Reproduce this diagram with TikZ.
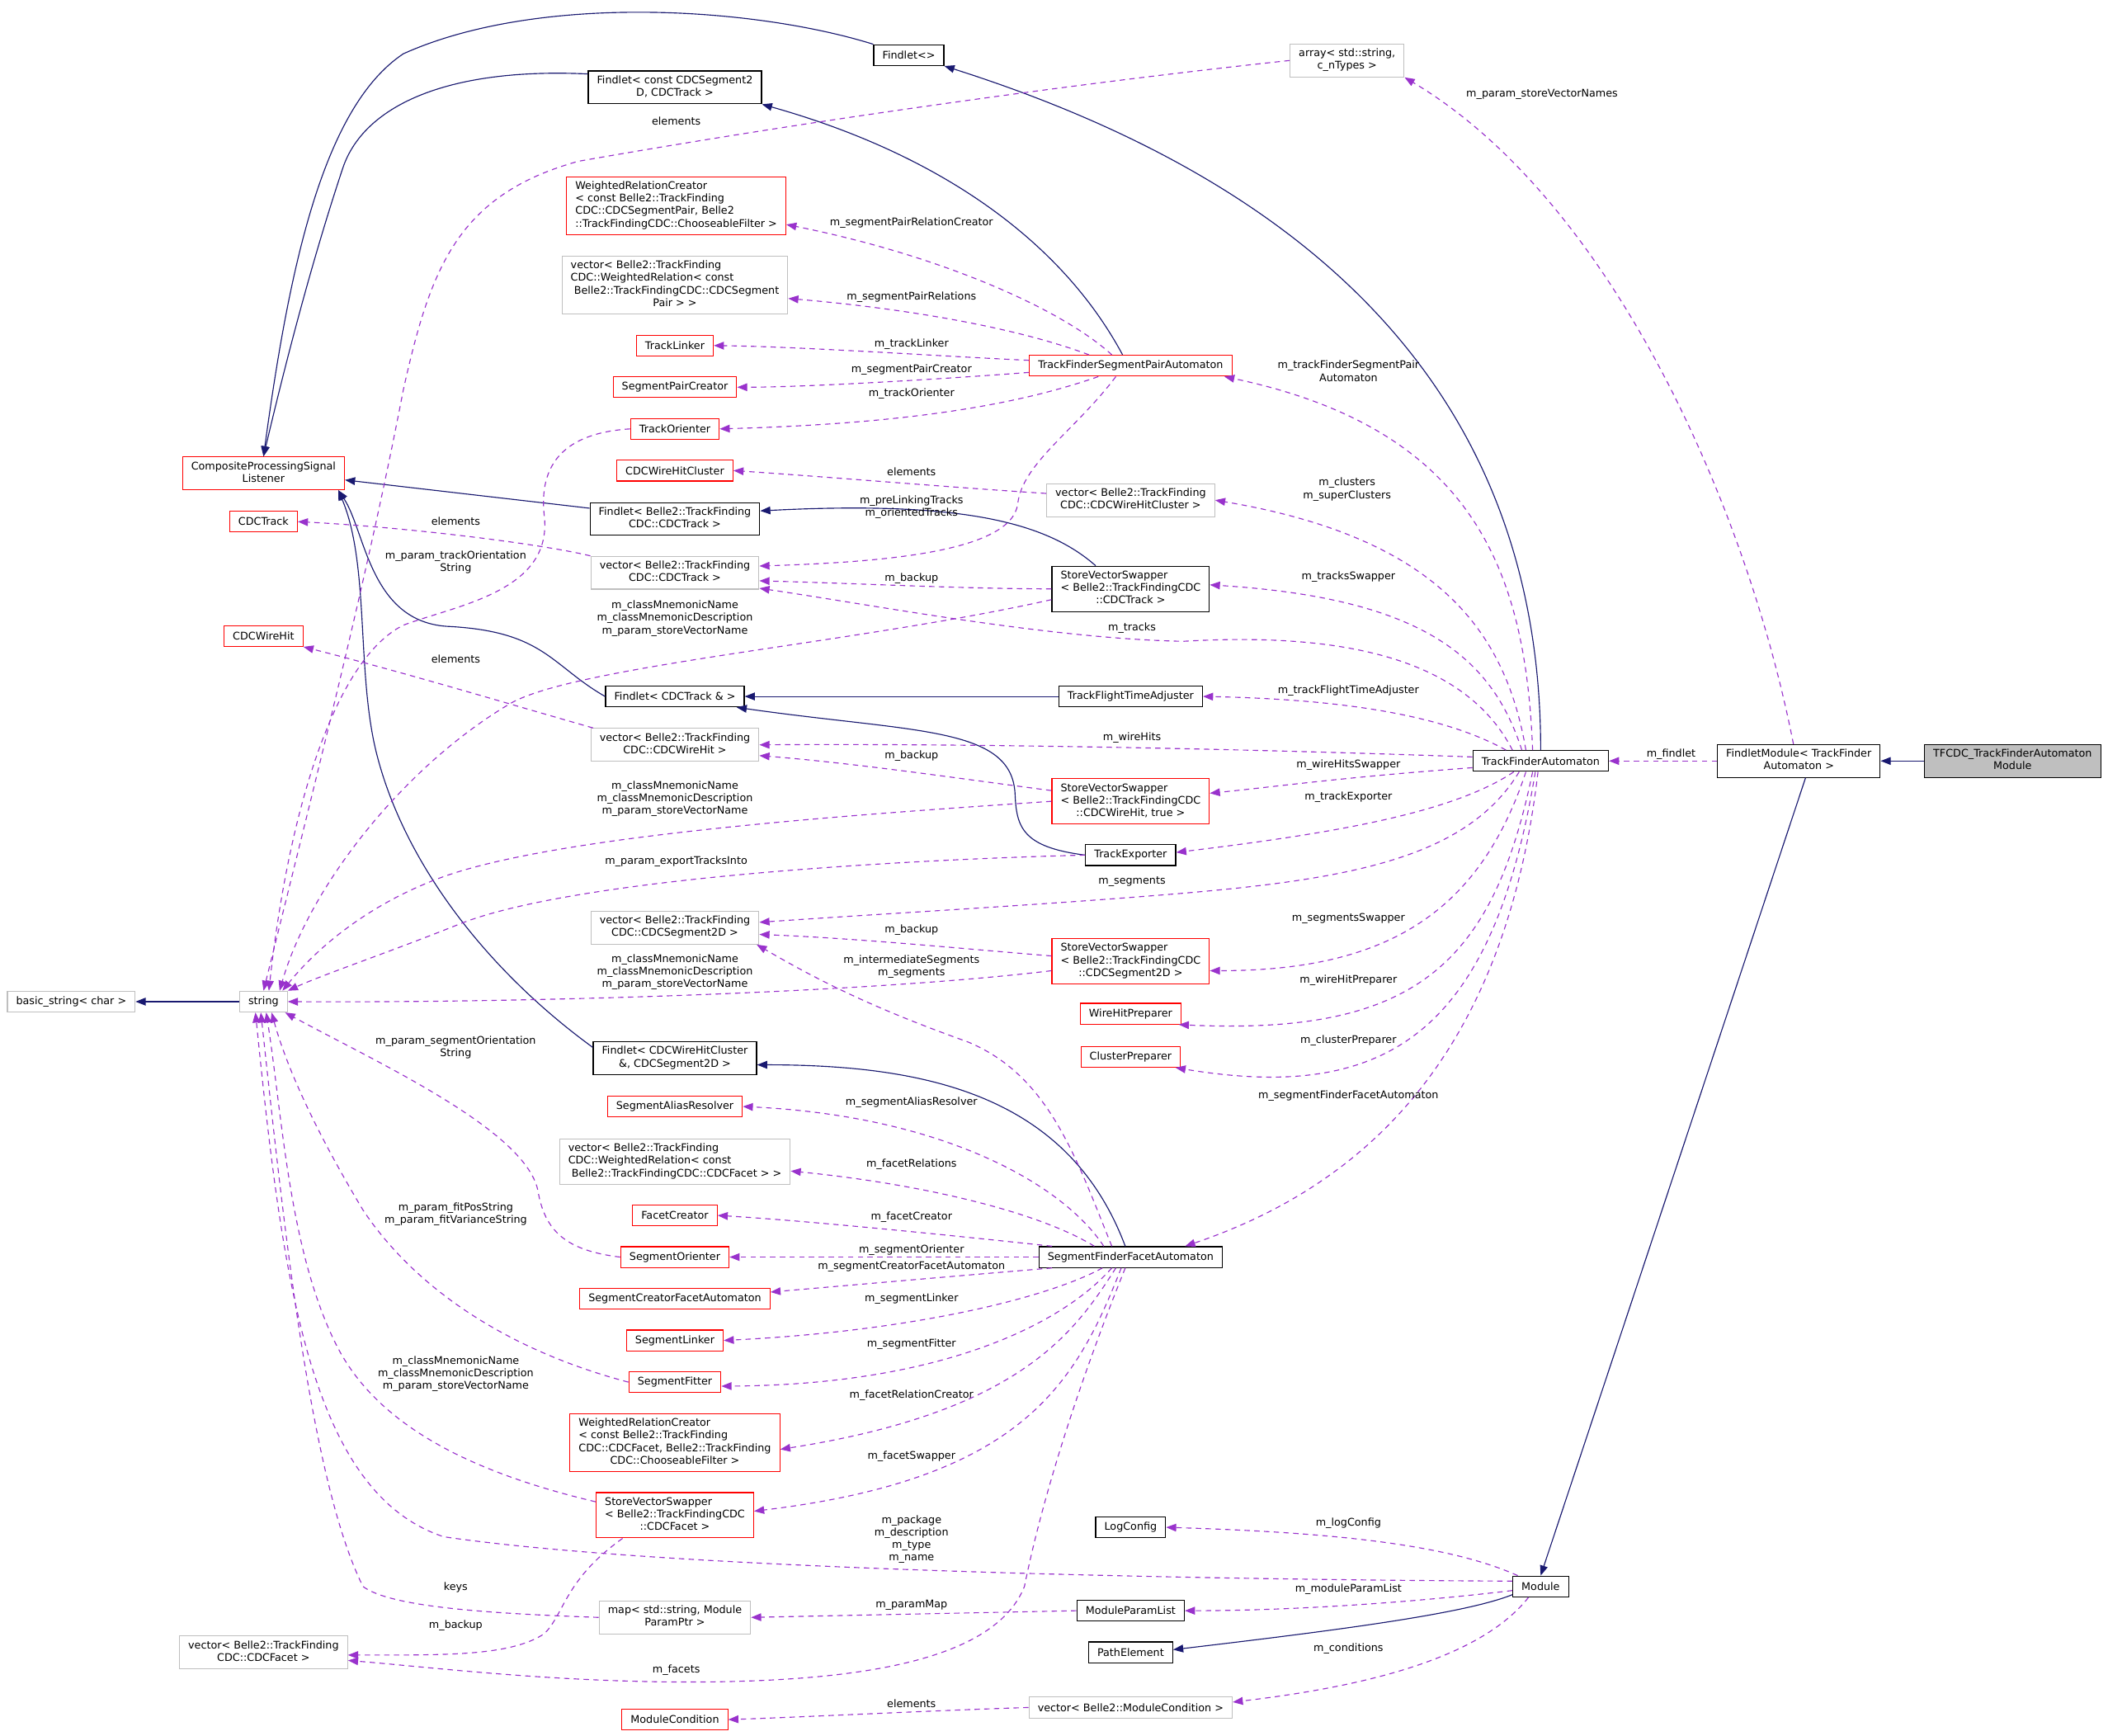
\documentclass[tikz,border=0pt]{standalone}
\usepackage{fontspec}
\setmainfont{DejaVu Sans}
\usetikzlibrary{arrows.meta,calc}
\definecolor{dgNavy}{RGB}{25,25,112}
\definecolor{dgPurple}{RGB}{153,50,204}
\definecolor{dgRed}{RGB}{255,0,0}
\definecolor{dgGrey}{RGB}{191,191,191}
\newcommand{\dgf}{\fontsize{8.9pt}{10.6pt}\selectfont}
\newcommand{\cls}[2]{\begin{tabular}{@{}l@{}}#1\\\multicolumn{1}{@{}c@{}}{#2}\end{tabular}}

\begin{document}
\begin{tikzpicture}[x=0.4mm, y=-0.4mm,
    box/.style={rectangle, draw, line width=0.8pt, inner xsep=7.4pt, inner ysep=3.3pt,
                minimum height=6.2mm, font=\dgf},
    blk/.style={box, draw=black},
    rbox/.style={box, draw=dgRed},
    gbox/.style={box, draw=dgGrey},
    inh/.style={-{Triangle[length=3mm,width=2.3mm]}, dgNavy, line width=0.8pt},
    mem/.style={-{Triangle[length=3mm,width=2.3mm]}, dgPurple, line width=0.8pt,
                dash pattern=on 1.6mm off 1.3mm},
    lbl/.style={font=\dgf, align=center, inner sep=0pt}
  ]
  \useasboundingbox (0,0) rectangle (1568,1291);

  \node[blk] (fl0) at (676,41) {Findlet<>};
  \node[gbox] (arr) at (1002,45) {\cls{array< std::string,}{c\_nTypes >}};
  \node[blk] (flseg) at (502,65) {\cls{Findlet< const CDCSegment2}{D, CDCTrack >}};
  \node[rbox] (wrcpair) at (503,153) {\cls{WeightedRelationCreator\\< const Belle2::TrackFinding\\CDC::CDCSegmentPair, Belle2}{::TrackFindingCDC::ChooseableFilter >}};
  \node[gbox] (vwrpair) at (502,212) {\cls{vector< Belle2::TrackFinding\\CDC::WeightedRelation< const\\\ Belle2::TrackFindingCDC::CDCSegment}{Pair > >}};
  \node[rbox] (tlink) at (502,257) {TrackLinker};
  \node[rbox] (spcreat) at (502,288) {SegmentPairCreator};
  \node[rbox] (torient) at (502,319) {TrackOrienter};
  \node[rbox] (cpsl) at (196,352) {\cls{CompositeProcessingSignal}{Listener}};
  \node[rbox] (cwhc) at (502,350) {CDCWireHitCluster};
  \node[rbox] (tfspa) at (841,272) {TrackFinderSegmentPairAutomaton};
  \node[gbox] (vwhc) at (841,372) {\cls{vector< Belle2::TrackFinding}{CDC::CDCWireHitCluster >}};
  \node[rbox] (cdctrack) at (196,388) {CDCTrack};
  \node[blk] (fltrk) at (502,386) {\cls{Findlet< Belle2::TrackFinding}{CDC::CDCTrack >}};
  \node[gbox] (vtrk) at (502,426) {\cls{vector< Belle2::TrackFinding}{CDC::CDCTrack >}};
  \node[blk] (svstrk) at (841,438) {\cls{StoreVectorSwapper\\< Belle2::TrackFindingCDC}{::CDCTrack >}};
  \node[rbox] (cdcwh) at (196,473) {CDCWireHit};
  \node[blk] (fltrkref) at (502,518) {Findlet< CDCTrack \& >};
  \node[blk] (tfta) at (841,518) {TrackFlightTimeAdjuster};
  \node[gbox] (vwh) at (502,554) {\cls{vector< Belle2::TrackFinding}{CDC::CDCWireHit >}};
  \node[blk] (tfa) at (1146,566) {TrackFinderAutomaton};
  \node[blk] (flmod) at (1338,566) {\cls{FindletModule< TrackFinder}{Automaton >}};
  \node[blk, fill=dgGrey] (tfcdc) at (1497,566) {\cls{TFCDC\_TrackFinderAutomaton}{Module}};
  \node[rbox] (svswh) at (841,596) {\cls{StoreVectorSwapper\\< Belle2::TrackFindingCDC}{::CDCWireHit, true >}};
  \node[blk] (texp) at (841,636) {TrackExporter};
  \node[gbox] (vseg) at (502,690) {\cls{vector< Belle2::TrackFinding}{CDC::CDCSegment2D >}};
  \node[rbox] (svsseg) at (841,715) {\cls{StoreVectorSwapper\\< Belle2::TrackFindingCDC}{::CDCSegment2D >}};
  \node[gbox] (bstr) at (53,745) {basic\_string< char >};
  \node[gbox] (str) at (196,745) {string};
  \node[rbox] (whprep) at (841,754) {WireHitPreparer};
  \node[rbox] (clprep) at (841,786) {ClusterPreparer};
  \node[blk] (flclu) at (502,787) {\cls{Findlet< CDCWireHitCluster}{\&, CDCSegment2D >}};
  \node[rbox] (sares) at (502,823) {SegmentAliasResolver};
  \node[gbox] (vwrfac) at (502,864) {\cls{vector< Belle2::TrackFinding\\CDC::WeightedRelation< const}{\ Belle2::TrackFindingCDC::CDCFacet > >}};
  \node[rbox] (fcreat) at (502,904) {FacetCreator};
  \node[rbox] (sorient) at (502,935) {SegmentOrienter};
  \node[blk] (sffa) at (841,935) {SegmentFinderFacetAutomaton};
  \node[rbox] (scfa) at (502,966) {SegmentCreatorFacetAutomaton};
  \node[rbox] (slink) at (502,997) {SegmentLinker};
  \node[rbox] (sfit) at (502,1028) {SegmentFitter};
  \node[rbox] (wrcfac) at (502,1073) {\cls{WeightedRelationCreator\\< const Belle2::TrackFinding\\CDC::CDCFacet, Belle2::TrackFinding}{CDC::ChooseableFilter >}};
  \node[rbox] (svsfac) at (502,1127) {\cls{StoreVectorSwapper\\< Belle2::TrackFindingCDC}{::CDCFacet >}};
  \node[blk] (logc) at (841,1136) {LogConfig};
  \node[blk] (module) at (1146,1180) {Module};
  \node[gbox] (map) at (502,1203) {\cls{map< std::string, Module}{ParamPtr >}};
  \node[blk] (mplist) at (841,1198) {ModuleParamList};
  \node[gbox] (vfac) at (196,1229) {\cls{vector< Belle2::TrackFinding}{CDC::CDCFacet >}};
  \node[blk] (pathel) at (841,1229) {PathElement};
  \node[rbox] (modcond) at (502,1279) {ModuleCondition};
  \node[gbox] (vmodcond) at (841,1270) {vector< Belle2::ModuleCondition >};

  \draw[inh] (tfa.north) .. controls (1146,330) and (1020,150) .. (fl0.south east);
  \draw[inh] (fl0.north west) .. controls (560,5) and (400,-5) .. (300,40)
             .. controls (240,80) and (215,200) .. (cpsl.north);
  \draw[inh] ($(flseg.west)+(0,-10)$) .. controls (330,50) and (270,80) .. (255,125)
             .. controls (230,200) and (210,280) .. (cpsl.north);
  \draw[inh] ($(tfspa.north)+(-6,0)$) .. controls (790,180) and (700,115) .. (flseg.south east);
  \draw[inh] ($(fltrk.west)+(0,-8)$) -- ($(cpsl.east)+(0,5)$);
  \draw[inh] ($(svstrk.north)+(-26,0)$) .. controls (780,390) and (720,372) .. ($(fltrk.east)+(0,-6)$);
  \draw[inh] (fltrkref.west) .. controls (410,495) and (405,470) .. (335,466)
             .. controls (275,464) and (272,395) .. ($(cpsl.south east)+(-5,0)$);
  \draw[inh] ($(flclu.west)+(0,-8)$) .. controls (360,720) and (300,640) .. (280,560)
             .. controls (265,500) and (275,420) .. ($(cpsl.south east)+(-5,0)$);
  \draw[inh] (tfta.west) -- (fltrkref.east);
  \draw[inh] (texp.west) .. controls (760,630) and (756,615) .. (755,590)
             .. controls (752,540) and (680,545) .. ($(fltrkref.south east)+(-6,0)$);
  \draw[inh] ($(sffa.north)+(-4,0)$) .. controls (795,815) and (690,792) .. ($(flclu.east)+(0,5)$);
  \draw[inh] (tfcdc.west) -- (flmod.east);
  \draw[inh] ($(flmod.south)+(5,0)$) -- (module.north);
  \draw[inh] (str.west) -- (bstr.east);
  \draw[inh] ($(module.south west)+(0,-2)$) .. controls (1090,1200) and (1000,1212) .. ($(pathel.east)+(0,-2)$);

  \draw[mem] ($(tfspa.north)+(-14,0)$) .. controls (790,230) and (700,190) .. ($(wrcpair.east)+(0,14)$);
  \draw[mem] ($(tfspa.north)+(-31,0)$) .. controls (760,245) and (680,230) .. ($(vwrpair.east)+(0,10)$);
  \draw[mem] ($(tfspa.west)+(0,-4)$) .. controls (700,265) and (600,258) .. (tlink.east);
  \draw[mem] ($(tfspa.west)+(0,5)$) .. controls (700,282) and (600,288) .. (spcreat.east);
  \draw[mem] ($(tfspa.south)+(-24,0)$) .. controls (760,300) and (680,315) .. (torient.east);
  \draw[mem] ($(tfspa.south)+(-11,0)$) .. controls (800,320) and (760,345) .. (757,375)
             .. controls (752,410) and (660,418) .. ($(vtrk.east)+(0,-5)$);
  \draw[mem] ($(vwhc.west)+(0,-5)$) .. controls (700,362) and (620,355) .. (cwhc.east);
  \draw[mem] (vtrk.north west) .. controls (400,404) and (300,392) .. (cdctrack.east);
  \draw[mem] (svstrk.west) .. controls (720,438) and (640,434) .. ($(vtrk.east)+(0,6)$);
  \draw[mem] ($(svstrk.west)+(0,8)$) .. controls (640,478) and (430,495) .. (380,523)
             .. controls (300,570) and (230,660) .. ($(str.north)+(12,0)$);
  \draw[mem] ($(svswh.west)+(0,-8)$) .. controls (720,580) and (640,568) .. ($(vwh.east)+(0,8)$);
  \draw[mem] (svswh.west) .. controls (650,605) and (420,620) .. (330,652)
             .. controls (280,670) and (240,700) .. ($(str.north east)+(-4,0)$);
  \draw[mem] (texp.west) .. controls (650,640) and (420,655) .. (340,688)
             .. controls (290,708) and (240,725) .. (str.north east);
  \draw[mem] ($(svsseg.west)+(0,-4)$) .. controls (720,706) and (640,698) .. ($(vseg.east)+(0,5)$);
  \draw[mem] ($(svsseg.west)+(0,7)$) .. controls (650,738) and (400,746) .. (str.east);
  \draw[mem] (torient.west) .. controls (420,322) and (400,345) .. (405,385)
             .. controls (410,440) and (340,450) .. (300,465)
             .. controls (250,490) and (215,600) .. ($(str.north)+(4,0)$);
  \draw[mem] (arr.west) .. controls (800,62) and (600,90) .. (430,120)
             .. controls (340,145) and (320,200) .. (300,290)
             .. controls (275,420) and (240,560) .. (str.north);
  \draw[mem] ($(vwh.north west)+(2,0)$) .. controls (380,524) and (300,500) .. (cdcwh.south east);
  \draw[mem] (sorient.west) .. controls (420,930) and (405,915) .. (400,885)
             .. controls (390,840) and (280,790) .. ($(str.south east)+(-2,0)$);
  \draw[mem] (sfit.west) .. controls (380,1005) and (310,960) .. (270,900)
             .. controls (240,850) and (215,800) .. ($(str.south)+(6,0)$);
  \draw[mem] ($(svsfac.west)+(0,-10)$) .. controls (350,1095) and (280,1060) .. (250,1000)
             .. controls (215,930) and (210,830) .. ($(str.south)+(2,0)$);
  \draw[mem] ($(svsfac.south west)+(20,0)$) .. controls (420,1175) and (420,1200) .. (405,1215)
             .. controls (380,1232) and (330,1231) .. ($(vfac.east)+(0,2)$);
  \draw[mem] (map.west) .. controls (360,1200) and (290,1195) .. (270,1180)
             .. controls (230,1100) and (210,900) .. ($(str.south)+(-2,0)$);
  \draw[mem] ($(module.west)+(0,-4)$) .. controls (900,1175) and (500,1168) .. (330,1143)
             .. controls (230,1110) and (210,950) .. ($(str.south)+(-6,0)$);
  \draw[mem] ($(module.north west)+(4,0)$) .. controls (1080,1150) and (1000,1140) .. (logc.east);
  \draw[mem] ($(module.west)+(0,3)$) .. controls (1050,1192) and (960,1198) .. (mplist.east);
  \draw[mem] ($(module.south west)+(12,0)$) .. controls (1100,1235) and (1010,1255) .. ($(vmodcond.east)+(0,-4)$);
  \draw[mem] (mplist.west) -- (map.east);
  \draw[mem] (vmodcond.west) .. controls (700,1272) and (600,1277) .. (modcond.east);
  \draw[mem] ($(sffa.north)+(-14,0)$) .. controls (800,860) and (780,800) .. (720,775)
             .. controls (650,750) and (610,730) .. ($(vseg.south east)+(-2,0)$);
  \draw[mem] ($(sffa.north)+(-20,0)$) .. controls (790,880) and (700,830) .. (sares.east);
  \draw[mem] ($(sffa.north)+(-27,0)$) .. controls (770,900) and (680,880) .. ($(vwrfac.east)+(0,7)$);
  \draw[mem] ($(sffa.north west)+(10,0)$) .. controls (700,918) and (600,908) .. (fcreat.east);
  \draw[mem] (sffa.west) -- (sorient.east);
  \draw[mem] ($(sffa.south west)+(10,0)$) .. controls (700,950) and (620,957) .. ($(scfa.east)+(0,-5)$);
  \draw[mem] ($(sffa.south)+(-21,0)$) .. controls (780,965) and (680,990) .. (slink.east);
  \draw[mem] ($(sffa.south)+(-14,0)$) .. controls (790,985) and (700,1030) .. ($(sfit.east)+(0,3)$);
  \draw[mem] ($(sffa.south)+(-11,0)$) .. controls (800,990) and (760,1050) .. ($(wrcfac.east)+(0,5)$);
  \draw[mem] ($(sffa.south)+(-7,0)$) .. controls (800,1030) and (760,1100) .. ($(svsfac.east)+(0,-3)$);
  \draw[mem] ($(sffa.south)+(-4,0)$) .. controls (790,1060) and (770,1140) .. (762,1180)
             .. controls (740,1235) and (640,1252) .. (500,1251)
             .. controls (400,1250) and (320,1240) .. ($(vfac.east)+(0,6)$);
  \draw[mem] ($(tfa.north)+(-6,0)$) .. controls (1135,430) and (1100,320) .. ($(tfspa.south east)+(-6,0)$);
  \draw[mem] ($(tfa.north)+(-11,0)$) .. controls (1120,470) and (1070,400) .. (vwhc.east);
  \draw[mem] ($(tfa.north)+(-14,0)$) .. controls (1110,490) and (1060,445) .. ($(svstrk.east)+(0,-3)$);
  \draw[mem] ($(tfa.north)+(-21,0)$) .. controls (1090,490) and (1000,470) .. (880,477)
             .. controls (780,475) and (650,450) .. ($(vtrk.south east)+(0,-1)$);
  \draw[mem] ($(tfa.north west)+(25,0)$) .. controls (1070,530) and (990,520) .. (tfta.east);
  \draw[mem] ($(tfa.west)+(0,-3)$) .. controls (900,556) and (700,553) .. (vwh.east);
  \draw[mem] ($(tfa.west)+(0,5)$) .. controls (1000,578) and (950,585) .. ($(svswh.east)+(0,-6)$);
  \draw[mem] ($(tfa.south)+(-20,0)$) .. controls (1080,605) and (990,620) .. ($(texp.east)+(0,-2)$);
  \draw[mem] ($(tfa.south)+(-16,0)$) .. controls (1090,640) and (1000,655) .. (860,666)
             .. controls (760,674) and (650,680) .. ($(vseg.east)+(0,-4)$);
  \draw[mem] ($(tfa.south)+(-11,0)$) .. controls (1100,680) and (1030,722) .. ($(svsseg.east)+(0,7)$);
  \draw[mem] ($(tfa.south)+(-6,0)$) .. controls (1110,720) and (1050,770) .. ($(whprep.south east)+(-2,0)$);
  \draw[mem] ($(tfa.south)+(-4,0)$) .. controls (1110,770) and (1030,820) .. ($(clprep.south east)+(-4,0)$);
  \draw[mem] ($(tfa.south)+(-2,0)$) .. controls (1120,780) and (1020,880) .. ($(sffa.north east)+(-28,0)$);
  \draw[mem] (flmod.west) -- (tfa.east);
  \draw[mem] ($(flmod.north)+(-4,0)$) .. controls (1300,380) and (1200,150) .. (arr.south east);

  \node[lbl] (la1) at (503,90) {elements};
  \node[lbl] (la2) at (1147,70) {m\_param\_storeVectorNames};
  \node[lbl] (la3) at (678,166) {m\_segmentPairRelationCreator};
  \node[lbl] (la4) at (678,221) {m\_segmentPairRelations};
  \node[lbl] (la5) at (678,256) {m\_trackLinker};
  \node[lbl] (la6) at (678,275) {m\_segmentPairCreator};
  \node[lbl] (la7) at (678,293) {m\_trackOrienter};
  \node[lbl] (la8) at (1003,276) {m\_trackFinderSegmentPair\\Automaton};
  \node[lbl] (la9) at (678,351) {elements};
  \node[lbl] (la10) at (1002,364) {m\_clusters\\m\_superClusters};
  \node[lbl] (la11) at (678,377) {m\_preLinkingTracks\\m\_orientedTracks};
  \node[lbl] (la12) at (339,388) {elements};
  \node[lbl] (la13) at (339,418) {m\_param\_trackOrientation\\String};
  \node[lbl] (la14) at (678,430) {m\_backup};
  \node[lbl] (la15) at (1003,429) {m\_tracksSwapper};
  \node[lbl] (la16) at (502,460) {m\_classMnemonicName\\m\_classMnemonicDescription\\m\_param\_storeVectorName};
  \node[lbl] (la17) at (842,467) {m\_tracks};
  \node[lbl] (la18) at (339,490) {elements};
  \node[lbl] (la19) at (1003,514) {m\_trackFlightTimeAdjuster};
  \node[lbl] (la20) at (842,549) {m\_wireHits};
  \node[lbl] (la21) at (1243,561) {m\_findlet};
  \node[lbl] (la22) at (678,562) {m\_backup};
  \node[lbl] (la23) at (1003,569) {m\_wireHitsSwapper};
  \node[lbl] (la24) at (502,594) {m\_classMnemonicName\\m\_classMnemonicDescription\\m\_param\_storeVectorName};
  \node[lbl] (la25) at (1003,593) {m\_trackExporter};
  \node[lbl] (la26) at (503,641) {m\_param\_exportTracksInto};
  \node[lbl] (la27) at (842,656) {m\_segments};
  \node[lbl] (la28) at (1003,683) {m\_segmentsSwapper};
  \node[lbl] (la29) at (678,692) {m\_backup};
  \node[lbl] (la30) at (502,723) {m\_classMnemonicName\\m\_classMnemonicDescription\\m\_param\_storeVectorName};
  \node[lbl] (la31) at (678,719) {m\_intermediateSegments\\m\_segments};
  \node[lbl] (la32) at (1003,729) {m\_wireHitPreparer};
  \node[lbl] (la33) at (1003,774) {m\_clusterPreparer};
  \node[lbl] (la34) at (339,779) {m\_param\_segmentOrientation\\String};
  \node[lbl] (la35) at (1003,815) {m\_segmentFinderFacetAutomaton};
  \node[lbl] (la36) at (678,820) {m\_segmentAliasResolver};
  \node[lbl] (la37) at (678,866) {m\_facetRelations};
  \node[lbl] (la38) at (339,903) {m\_param\_fitPosString\\m\_param\_fitVarianceString};
  \node[lbl] (la39) at (678,905) {m\_facetCreator};
  \node[lbl] (la40) at (678,930) {m\_segmentOrienter};
  \node[lbl] (la41) at (678,942) {m\_segmentCreatorFacetAutomaton};
  \node[lbl] (la42) at (678,966) {m\_segmentLinker};
  \node[lbl] (la43) at (678,1000) {m\_segmentFitter};
  \node[lbl] (la44) at (339,1022) {m\_classMnemonicName\\m\_classMnemonicDescription\\m\_param\_storeVectorName};
  \node[lbl] (la45) at (678,1038) {m\_facetRelationCreator};
  \node[lbl] (la46) at (678,1083) {m\_facetSwapper};
  \node[lbl] (la47) at (1003,1133) {m\_logConfig};
  \node[lbl] (la48) at (678,1145) {m\_package\\m\_description\\m\_type\\m\_name};
  \node[lbl] (la49) at (339,1181) {keys};
  \node[lbl] (la50) at (1003,1182) {m\_moduleParamList};
  \node[lbl] (la51) at (678,1194) {m\_paramMap};
  \node[lbl] (la52) at (339,1209) {m\_backup};
  \node[lbl] (la53) at (1003,1226) {m\_conditions};
  \node[lbl] (la54) at (503,1242) {m\_facets};
  \node[lbl] (la55) at (678,1267) {elements};
\end{tikzpicture}
\end{document}
